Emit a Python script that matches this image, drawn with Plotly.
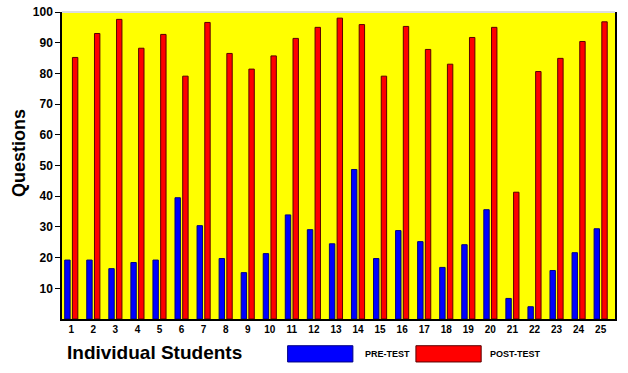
import plotly.graph_objects as go

students = list(range(1, 26))
tick_labels = [str(s) for s in students]
pre_test = [19.2, 19.2, 16.4, 18.4, 19.2, 39.5, 30.4, 19.7, 15.1, 21.3, 33.9, 29.1, 24.5,
            48.7, 19.7, 28.8, 25.2, 16.8, 24.2, 35.6, 6.7, 4.0, 15.8, 21.6, 29.4]
post_test = [85.2, 93.0, 97.6, 88.2, 92.7, 79.1, 96.6, 86.5, 81.4, 85.7, 91.4, 95.0, 98.0,
             95.9, 79.1, 95.3, 87.8, 83.0, 91.7, 95.0, 41.3, 80.6, 84.9, 90.4, 96.8]
series_names = ["PRE-TEST", "POST-TEST"]
y_ticks = [10, 20, 30, 40, 50, 60, 70, 80, 90, 100]

FONT = "Liberation Sans, Arial, sans-serif"
BLUE = "#0000FF"
RED = "#FF0000"

fig = go.Figure()
fig.add_trace(go.Bar(x=students, y=pre_test, name=series_names[0],
                     marker=dict(color=BLUE, line=dict(color="#000080", width=1))))
fig.add_trace(go.Bar(x=students, y=post_test, name=series_names[1],
                     marker=dict(color=RED, line=dict(color="#5a0000", width=1))))

fig.update_layout(
    width=628, height=373,
    margin=dict(l=62, r=13, t=12, b=54),
    paper_bgcolor="white",
    plot_bgcolor="#FFFF00",
    barmode="group",
    bargap=0.30,
    bargroupgap=0.30,
    showlegend=False,
    hovermode=False,
    font=dict(family=FONT, color="black"),
)
fig.update_xaxes(
    range=[0.58, 25.65],
    tickmode="array", tickvals=students, ticktext=tick_labels,
    tickfont=dict(size=10, family=FONT, weight="bold"),
    showline=True, linecolor="black", linewidth=1.5,
    showgrid=False, zeroline=False, ticks="", automargin=False,
)
fig.update_yaxes(
    range=[0, 100],
    tickmode="array", tickvals=y_ticks,
    tickfont=dict(size=12, family=FONT, weight="bold"),
    ticks="outside", ticklen=5, tickcolor="black", tickwidth=1,
    showline=True, linecolor="black", linewidth=1.5, mirror=True,
    showgrid=False, zeroline=False, automargin=False,
)
# light top border
fig.add_shape(type="line", xref="paper", yref="paper", x0=0, x1=1, y0=1, y1=1,
              line=dict(color="#dddddd", width=2))

# axis titles
fig.add_annotation(text="<b>Questions</b>", xref="paper", yref="paper",
                   x=-0.078, y=0.54, textangle=-90, showarrow=False,
                   font=dict(size=18, family=FONT), xanchor="center", yanchor="middle")
fig.add_annotation(text="<b>Individual Students</b>", xref="paper", yref="paper",
                   x=0.005, y=-0.108, showarrow=False,
                   font=dict(size=19, family=FONT), xanchor="left", yanchor="middle")

# custom legend
legend_items = [(series_names[0], BLUE, "#000080", 0.408, 0.545),
                (series_names[1], RED, "#5a0000", 0.64, 0.77)]
for name, col, lcol, x0, tx in legend_items:
    fig.add_shape(type="rect", xref="paper", yref="paper",
                  x0=x0, x1=x0 + 0.118, y0=-0.14, y1=-0.087,
                  fillcolor=col, line=dict(color=lcol, width=1))
    fig.add_annotation(text="<b>" + name + "</b>", xref="paper", yref="paper",
                       x=tx, y=-0.113, showarrow=False, xanchor="left", yanchor="middle",
                       font=dict(size=9, family=FONT))

fig.write_html("out.html", config={"displayModeBar": False},
               post_script="document.body.style.margin='0';document.body.style.overflow='hidden';")
